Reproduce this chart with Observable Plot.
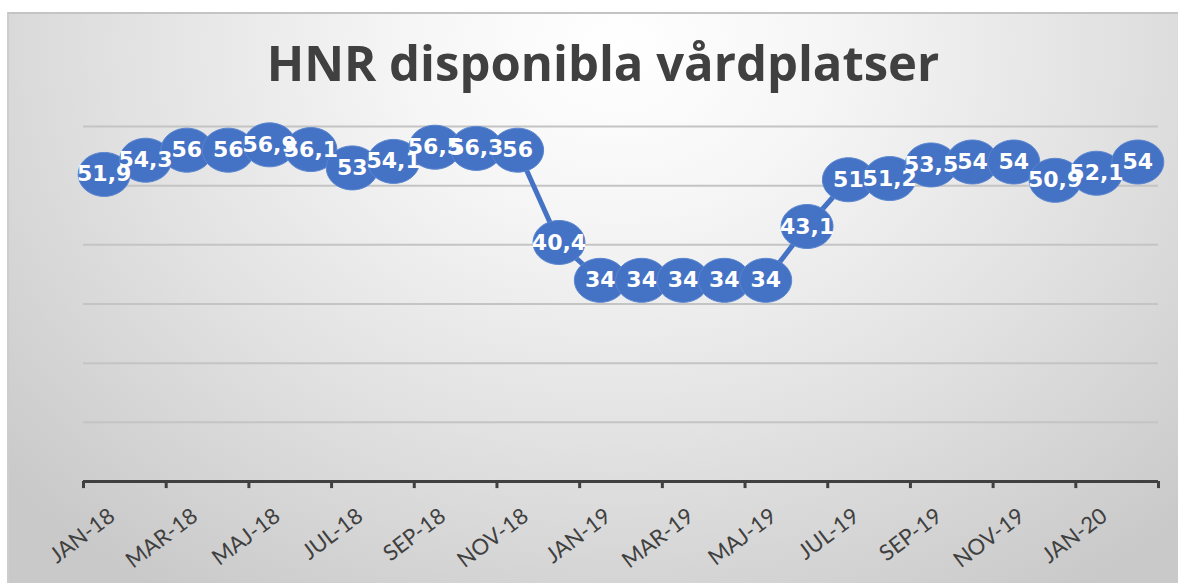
<!DOCTYPE html>
<html><head><meta charset="utf-8">
<script src="https://cdn.jsdelivr.net/npm/d3@7"></script>
<script src="https://cdn.jsdelivr.net/npm/@observablehq/plot@0.6"></script>
<style>
body{margin:0;width:1178px;height:583px;overflow:hidden;background:#fff;position:relative;}
#frame{position:absolute;left:7px;top:12px;right:0;bottom:0;border-top:2px solid #c4c4c4;border-left:2px solid #cdcdcd;
background:radial-gradient(ellipse 70% 115% at 52% 6%, #ffffff 0%, #f6f6f6 25%, #e2e2e2 60%, #c9c9c9 100%);}
#title{position:absolute;left:14px;width:1178px;top:37px;text-align:center;font-family:"Open Sans",sans-serif;font-weight:bold;font-size:49px;line-height:50px;color:#404040;}
#chart{position:absolute;left:0;top:0;}
</style></head>
<body>
<div id="frame"></div>
<div id="title">HNR disponibla vårdplatser</div>
<div id="chart"></div>
<script>
const months = ["JAN-18","FEB-18","MAR-18","APR-18","MAJ-18","JUN-18","JUL-18","AUG-18","SEP-18","OKT-18","NOV-18","DEC-18","JAN-19","FEB-19","MAR-19","APR-19","MAJ-19","JUN-19","JUL-19","AUG-19","SEP-19","OKT-19","NOV-19","DEC-19","JAN-20","FEB-20"];
const values = [51.9,54.3,56,56,56.9,56.1,53,54.1,56.5,56.3,56,40.4,34,34,34,34,34,43.1,51,51.2,53.5,54,54,50.9,52.1,54];
const gridValues = [10,20,30,40,50,60];

const rows = months.map((m, i) => ({i, month: m, value: values[i], label: String(values[i]).replace(".", ",")}));
const tickRows = rows.filter(d => d.i % 2 === 0);
const tickPositions = tickRows.map(d => d.i - 0.5).concat([months.length - 0.5]);

const ellipse = {draw(ctx, size) {
  const r = Math.sqrt(size / Math.PI), rx = r * 1.18, ry = r, k = 0.5523;
  ctx.moveTo(rx, 0);
  ctx.bezierCurveTo(rx, ry * k, rx * k, ry, 0, ry);
  ctx.bezierCurveTo(-rx * k, ry, -rx, ry * k, -rx, 0);
  ctx.bezierCurveTo(-rx, -ry * k, -rx * k, -ry, 0, -ry);
  ctx.bezierCurveTo(rx * k, -ry, rx, -ry * k, rx, 0);
  ctx.closePath();
}};

const chart = Plot.plot({
  width: 1178, height: 583,
  marginLeft: 83, marginRight: 20, marginTop: 126, marginBottom: 102,
  x: {type: "linear", domain: [-0.5, months.length - 0.5], axis: null},
  y: {domain: [0, 60], axis: null},
  style: {background: "transparent", overflow: "visible"},
  marks: [
    Plot.ruleY(gridValues, {stroke: "#c4c4c4", strokeWidth: 2}),
    Plot.ruleY([0], {stroke: "#404040", strokeWidth: 3}),
    Plot.ruleX(tickPositions, {x: d => d, y1: 0, y2: -1.2, stroke: "#404040", strokeWidth: 3}),
    Plot.line(rows, {x: "i", y: "value", stroke: "#4472C4", strokeWidth: 5}),
    Plot.dot(rows, {x: "i", y: "value", r: 22, symbol: ellipse, fill: "#4472C4", stroke: "#5b86d0", strokeWidth: 1}),
    Plot.text(rows, {x: "i", y: "value", text: "label", fill: "white", fontSize: 22, fontWeight: "bold", fontFamily: "DejaVu Sans"}),
    Plot.text(tickRows, {x: "i", y: 0, text: "month", rotate: -37, textAnchor: "end", dx: 8, dy: 32, fontSize: 22, fill: "#404040", fontFamily: "Lato"})
  ]
});
document.getElementById("chart").appendChild(chart);
</script>
</body></html>
